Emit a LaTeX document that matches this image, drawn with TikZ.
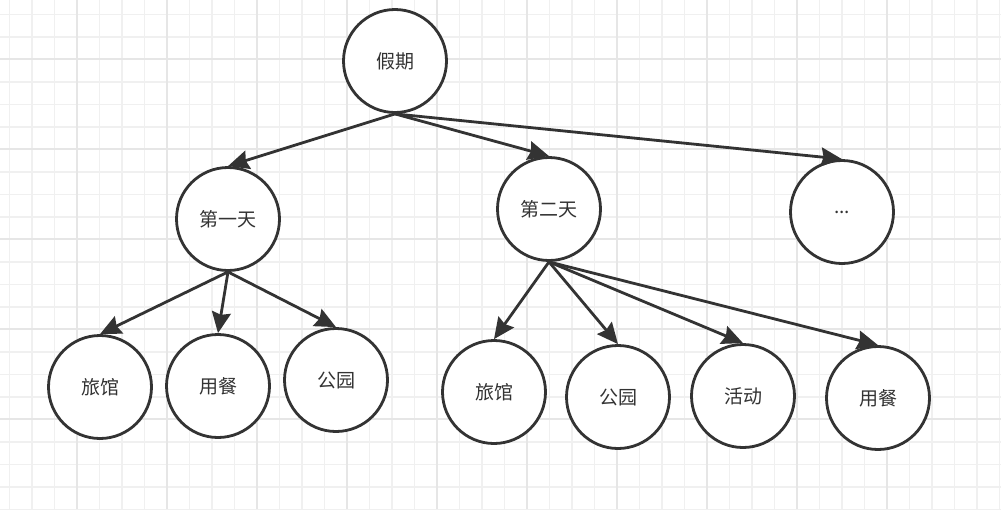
\documentclass[tikz,border=0pt]{standalone}
\usepackage{fontspec}
\newfontfamily\cjk{Noto Sans CJK SC}
\usetikzlibrary{arrows.meta}
\definecolor{ink}{HTML}{333333}
\definecolor{gridminor}{HTML}{F0F0F0}
\definecolor{gridmajor}{HTML}{E6E6E6}
\tikzset{
  topic/.style={circle, draw=ink, line width=2.8pt, fill=white, minimum size=103pt, inner sep=0pt, font=\cjk\fontsize{19}{22}\selectfont, text=ink},
  link/.style={draw=ink, line width=2.8pt, -{Stealth[length=21pt,width=19pt,inset=2.5pt]}},
  minorline/.style={draw=gridminor, line width=1.5pt},
  majorline/.style={draw=gridmajor, line width=1.7pt}
}
\begin{document}
\begin{tikzpicture}[x=1pt,y=-1pt]
\useasboundingbox (0,0) rectangle (1001,509);
\fill[white] (0,0) rectangle (1001,509);
\foreach \i in {0,...,44} {
  \draw[minorline] ({9.3+22.5*\i},0) -- ({9.3+22.5*\i},509);
}
\foreach \i in {0,...,22} {
  \draw[minorline] (0,{14.3+22.5*\i}) -- (1001,{14.3+22.5*\i});
}
\foreach \i in {0,...,10} {
  \draw[majorline] ({-13.3+90*\i},0) -- ({-13.3+90*\i},509);
}
\foreach \i in {0,...,5} {
  \draw[majorline] (0,{-30.7+90*\i}) -- (1001,{-30.7+90*\i});
}
\node[topic] (root) at (395,61) {假期};
\node[topic] (d1) at (228,219) {第一天};
\node[topic] (d2) at (549,209) {第二天};
\node[topic] (etc) at (842,212) {...};
\node[topic] (h1) at (100,387) {旅馆};
\node[topic] (m1) at (218,386) {用餐};
\node[topic] (p1) at (336,380) {公园};
\node[topic] (h2) at (494,392) {旅馆};
\node[topic] (p2) at (618,397) {公园};
\node[topic] (a2) at (743,396) {活动};
\node[topic] (m2) at (878,398) {用餐};
\draw[link] (root.south) -- (d1.north);
\draw[link] (root.south) -- (d2.north);
\draw[link] (root.south) -- (etc.north);
\draw[link] (d1.south) -- (h1.north);
\draw[link] (d1.south) -- (m1.north);
\draw[link] (d1.south) -- (p1.north);
\draw[link] (d2.south) -- (h2.north);
\draw[link] (d2.south) -- (p2.north);
\draw[link] (d2.south) -- (a2.north);
\draw[link] (d2.south) -- (m2.north);
\end{tikzpicture}
\end{document}
